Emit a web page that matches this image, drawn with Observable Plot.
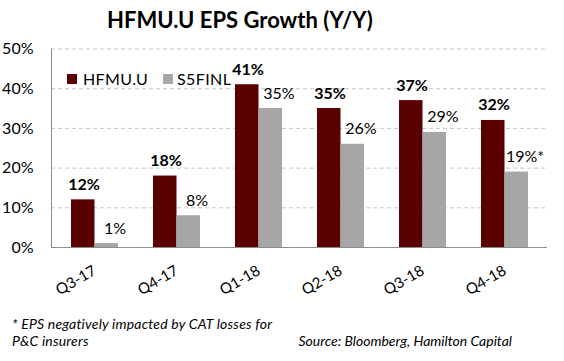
<!DOCTYPE html>
<html>
<head>
<meta charset="utf-8">
<script src="https://cdn.jsdelivr.net/npm/d3@7"></script>
<script src="https://cdn.jsdelivr.net/npm/@observablehq/plot@0.6"></script>
<style>
  html, body { margin: 0; padding: 0; background: #fff; }
  #wrap { position: relative; width: 564px; height: 361px; overflow: hidden; font-family: Lato, "Open Sans", sans-serif; color: #000; }
  #title { position: absolute; left: 0; top: 5px; width: 480px; text-align: center; font-size: 22px; line-height: 30px; font-weight: bold; }
  #chart { position: absolute; left: 0; top: 30px; }
  .leg { position: absolute; font-size: 16px; line-height: 20px; letter-spacing: 0.4px; }
  .sw { position: absolute; width: 10px; height: 10px; }
  .foot { position: absolute; font-size: 14px; line-height: 18px; font-style: italic; white-space: nowrap; }
</style>
</head>
<body>
<div id="wrap">
  <div id="title">HFMU.U EPS Growth (Y/Y)</div>
  <div id="chart"></div>
  <div class="sw" style="left:67px;top:74px;background:#5A0000"></div>
  <div class="leg" style="left:83px;top:69px">HFMU.U</div>
  <div class="sw" style="left:163px;top:74px;background:#A6A6A6"></div>
  <div class="leg" style="left:177px;top:69px">S5FINL</div>
  <div class="foot" style="left:12px;top:315px;letter-spacing:0.2px">* EPS negatively impacted by CAT losses for</div>
  <div class="foot" style="left:12px;top:332px;letter-spacing:0.2px">P&amp;C insurers</div>
  <div class="foot" style="right:52px;top:332px">Source: Bloomberg, Hamilton Capital</div>
</div>
<script>
const quarters = ["Q3-17", "Q4-17", "Q1-18", "Q2-18", "Q3-18", "Q4-18"];
const hfmuValues = [12, 18, 41, 35, 37, 32];
const s5finlValues = [1, 8, 35, 26, 29, 19];
const s5finlNotes = ["", "", "", "", "", "*"];
const yTicks = [0, 10, 20, 30, 40, 50];
const gridTicks = [10, 20, 30, 40, 50];

const hfmu = quarters.map((q, i) => ({q, v: hfmuValues[i], label: hfmuValues[i] + "%"}));
const s5 = quarters.map((q, i) => ({q, v: s5finlValues[i], label: s5finlValues[i] + "%" + s5finlNotes[i]}));

const dark = "#5A0000";
const gray = "#A6A6A6";
const half = 23.5;

const plot = Plot.plot({
  width: 564,
  height: 280,
  marginLeft: 51,
  marginRight: 17,
  marginTop: 18.5,
  marginBottom: 63,
  style: {fontFamily: "Lato, 'Open Sans', sans-serif", color: "#000", background: "transparent"},
  x: {domain: quarters, paddingInner: 0.43, paddingOuter: 0.215},
  y: {domain: [0, 50]},
  marks: [
    Plot.ruleY(gridTicks, {stroke: "#c6c6c6", strokeDasharray: "4,3", strokeWidth: 1}),
    Plot.barY(hfmu, {x: "q", y: "v", fill: dark, insetRight: half, insetLeft: 0}),
    Plot.barY(s5, {x: "q", y: "v", fill: gray, insetLeft: half, insetRight: 0}),
    Plot.text(hfmu, {x: "q", y: "v", text: "label", dx: -11, dy: -10, lineAnchor: "bottom", fontWeight: "bold", fontSize: 16, fill: "#000"}),
    Plot.text(s5, {x: "q", y: "v", text: "label", dx: 20, dy: -10, lineAnchor: "bottom", fontSize: 16, fill: "#000"}),
    Plot.ruleY([0], {stroke: "#8c8c8c", strokeWidth: 1}),
    Plot.frame({anchor: "left", stroke: "#8c8c8c"}),
    Plot.axisY({ticks: yTicks, tickFormat: d => d + "%", tickSize: 0, tickPadding: 18, fontSize: 16, label: null}),
    Plot.axisX({tickSize: 0, tickRotate: -30, tickPadding: 22, fontSize: 15, label: null})
  ]
});
document.getElementById("chart").appendChild(plot);
</script>
</body>
</html>
